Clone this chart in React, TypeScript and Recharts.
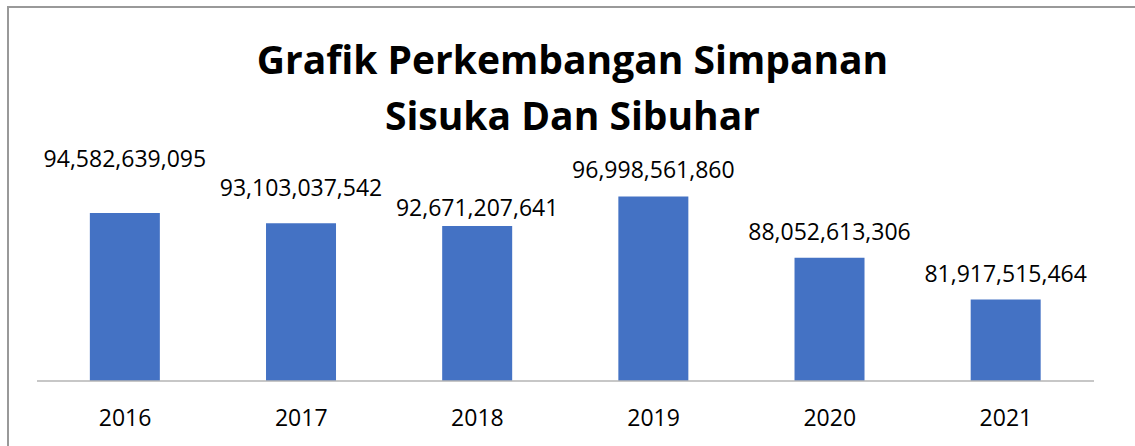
import React from 'react';
import { BarChart, Bar, XAxis, YAxis, LabelList } from 'recharts';

const years = ['2016', '2017', '2018', '2019', '2020', '2021'];
const simpanan = [94582639095, 93103037542, 92671207641, 96998561860, 88052613306, 81917515464];

const data = years.map((year, i) => ({ year, value: simpanan[i] }));

// data labels were dragged around a little in the original
const labelLift = [28, 9, -8, 1, 0, 0];

const FONT = '"Open Sans", Lato, sans-serif';

const ValueLabel = (props: any) => {
  const { x, y, width, value, index } = props;
  return (
    <text
      x={x + width / 2}
      y={y - 18 - (labelLift[index] || 0)}
      textAnchor="middle"
      fontFamily={FONT}
      fontSize={23}
      fill="#000"
    >
      {Number(value).toLocaleString('en-US')}
    </text>
  );
};

const YearTick = (props: any) => {
  const { x, y, payload } = props;
  return (
    <text x={x} y={y + 37} textAnchor="middle" fontFamily={FONT} fontSize={23} fill="#000">
      {payload.value}
    </text>
  );
};

const App: React.FC = () => {
  return (
    <div style={{ position: 'absolute', left: 0, top: 0, width: 1135, height: 446, background: '#fff' }}>
      <div
        style={{
          position: 'absolute',
          left: 7,
          top: 6,
          right: 0,
          bottom: 0,
          borderTop: '2px solid #999',
          borderLeft: '2px solid #999',
        }}
      />
      <div
        style={{
          position: 'absolute',
          left: 0,
          top: 31,
          width: 1145,
          textAlign: 'center',
          fontFamily: FONT,
          fontWeight: 700,
          fontSize: 39,
          lineHeight: '56px',
          color: '#000',
        }}
      >
        Grafik Perkembangan Simpanan
        <br />
        Sisuka Dan Sibuhar
      </div>
      <div style={{ position: 'absolute', left: 0, top: 0 }}>
        <BarChart
          width={1135}
          height={446}
          data={data}
          margin={{ top: 176, right: 41, left: 37, bottom: 35 }}
          barCategoryGap="30%"
        >
          <XAxis
            dataKey="year"
            tickLine={false}
            axisLine={{ stroke: '#b4b4b4', strokeWidth: 1.5 }}
            tick={<YearTick />}
            height={30}
            interval={0}
          />
          <YAxis hide domain={[70000000000, 100000000000]} allowDataOverflow />
          <Bar dataKey="value" fill="#4472C4" isAnimationActive={false}>
            <LabelList dataKey="value" content={<ValueLabel />} />
          </Bar>
        </BarChart>
      </div>
    </div>
  );
};

export default App;
